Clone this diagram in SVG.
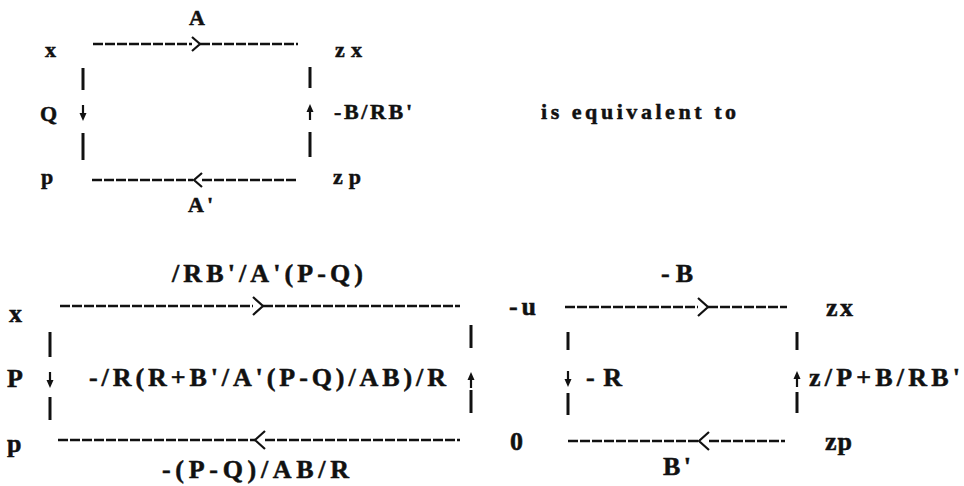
<svg xmlns="http://www.w3.org/2000/svg" width="964" height="486" viewBox="0 0 964 486">
<style>
text{font-family:"Liberation Serif","DejaVu Serif",serif;font-weight:bold;fill:#111;stroke:#111;stroke-width:0.5}
.s{font-size:22px}
.l{font-size:26px}
.h{stroke:#111;stroke-width:2.5;stroke-dasharray:10 2;fill:none}
.v{stroke:#111;stroke-width:3;fill:none}
.c{stroke:#111;stroke-width:2.2;fill:none}
</style>
<defs>
<g id="dn"><line x1="0" y1="-8" x2="0" y2="2" stroke="#111" stroke-width="2.2"/><path d="M-3.5,0 L3.5,0 L0,8 Z" fill="#111"/></g>
<g id="up"><line x1="0" y1="8" x2="0" y2="-2" stroke="#111" stroke-width="2.2"/><path d="M-3.5,0 L3.5,0 L0,-8 Z" fill="#111"/></g>
<polyline id="gt" points="-4,-7 4,0 -4,7" class="c"/>
<polyline id="lt" points="4,-7 -4,0 4,7" class="c"/>
<polyline id="gtL" points="-5,-9 5,0 -5,9" class="c"/>
<polyline id="ltL" points="5,-9 -5,0 5,9" class="c"/>
</defs>
<rect width="964" height="486" fill="#fff"/>
<g id="connectors">
<line class="h" x1="93" y1="44" x2="192" y2="44"/><use href="#gt" x="196" y="44"/><line class="h" x1="200" y1="44" x2="298" y2="44"/>
<line class="h" x1="92" y1="180" x2="193" y2="180"/><use href="#lt" x="198" y="180"/><line class="h" x1="202" y1="180" x2="297" y2="180"/>
<line class="v" x1="83" y1="68" x2="83" y2="90"/><use href="#dn" x="83" y="113"/><line class="v" x1="83" y1="133" x2="83" y2="160"/>
<line class="v" x1="310" y1="67" x2="310" y2="88"/><use href="#up" x="310" y="112"/><line class="v" x1="310" y1="132" x2="310" y2="157"/>
<line class="h" x1="60" y1="306" x2="253" y2="306"/><use href="#gtL" x="258" y="306"/><line class="h" x1="263" y1="306" x2="460" y2="306"/>
<line class="h" x1="58" y1="440" x2="255" y2="440"/><use href="#ltL" x="260" y="440"/><line class="h" x1="265" y1="440" x2="460" y2="440"/>
<line class="v" x1="50" y1="332" x2="50" y2="357"/><use href="#dn" x="50" y="380"/><line class="v" x1="50" y1="397" x2="50" y2="420"/>
<line class="v" x1="471" y1="325" x2="471" y2="348"/><use href="#up" x="471" y="380"/><line class="v" x1="471" y1="390" x2="471" y2="413"/>
<line class="h" x1="565" y1="307" x2="698" y2="307"/><use href="#gtL" x="703" y="307"/><line class="h" x1="708" y1="307" x2="787" y2="307"/>
<line class="h" x1="568" y1="441" x2="699" y2="441"/><use href="#ltL" x="704" y="441"/><line class="h" x1="709" y1="441" x2="785" y2="441"/>
<line class="v" x1="568" y1="332" x2="568" y2="350"/><use href="#dn" x="568" y="379"/><line class="v" x1="568" y1="393" x2="568" y2="415"/>
<line class="v" x1="797" y1="332" x2="797" y2="350"/><use href="#up" x="797" y="379"/><line class="v" x1="797" y1="392" x2="797" y2="413"/>
</g>
<g id="top-diagram">
<g id="n-x"><text class="s" x="45" y="57">x</text></g>
<g id="n-zx"><text class="s" x="335" y="57" textLength="27" lengthAdjust="spacing">zx</text></g>
<g id="n-p"><text class="s" x="41" y="184">p</text></g>
<g id="n-zp"><text class="s" x="333" y="184" textLength="28" lengthAdjust="spacing">zp</text></g>
<g id="lbl-A"><text class="s" x="197" y="25" text-anchor="middle">A</text></g>
<g id="lbl-Ap"><text class="s" x="188" y="212" textLength="25" lengthAdjust="spacing">A'</text></g>
<g id="lbl-Q"><text class="s" x="40" y="121">Q</text></g>
<g id="lbl-BRB"><text class="s" x="334" y="119" textLength="78" lengthAdjust="spacing">-B/RB'</text></g>
</g>
<g id="equiv"><text class="s" x="541" y="119" textLength="195" lengthAdjust="spacing">is equivalent to</text></g>
<g id="bottom-left">
<g id="n-x2"><text class="l" x="9" y="322">x</text></g>
<g id="n-P2"><text class="l" x="7" y="387">P</text></g>
<g id="n-p2"><text class="l" x="7" y="452">p</text></g>
<g id="lbl-top2"><text class="l" x="172" y="282" textLength="191" lengthAdjust="spacing">/RB'/A'(P-Q)</text></g>
<g id="lbl-mid2"><text class="l" x="89" y="386" textLength="357" lengthAdjust="spacing">-/R(R+B'/A'(P-Q)/AB)/R</text></g>
<g id="lbl-bot2"><text class="l" x="162" y="478" textLength="187" lengthAdjust="spacing">-(P-Q)/AB/R</text></g>
</g>
<g id="bottom-right">
<g id="n-u"><text class="l" x="509" y="315" textLength="27" lengthAdjust="spacing">-u</text></g>
<g id="n-zx3"><text class="l" x="826" y="316" textLength="27" lengthAdjust="spacing">zx</text></g>
<g id="n-0"><text class="l" x="510" y="450">0</text></g>
<g id="n-zp3"><text class="l" x="825" y="450" textLength="27" lengthAdjust="spacing">zp</text></g>
<g id="lbl-B3"><text class="l" x="661" y="282" textLength="32" lengthAdjust="spacing">-B</text></g>
<g id="lbl-R3"><text class="l" x="586" y="386" textLength="36" lengthAdjust="spacing">-R</text></g>
<g id="lbl-z3"><text class="l" x="809" y="386" textLength="151" lengthAdjust="spacing">z/P+B/RB'</text></g>
<g id="lbl-Bp3"><text class="l" x="663" y="475" textLength="28" lengthAdjust="spacing">B'</text></g>
</g>
</svg>
